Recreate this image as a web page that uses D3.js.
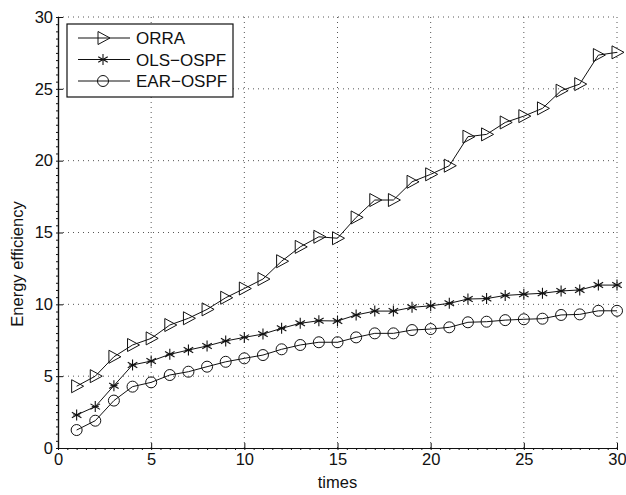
<!DOCTYPE html>
<html>
<head>
<meta charset="utf-8">
<script src="https://cdn.jsdelivr.net/npm/d3@7"></script>
<style>
  body { margin: 0; background: #fff; }
  text { font-family: "Liberation Sans", Arial, sans-serif; fill: #111; }
</style>
</head>
<body>
<div class="chart"></div>
<script>
// data
var times = d3.range(1, 31);
var orra = [4.3, 5.0, 6.35, 7.17, 7.63, 8.56, 9.03, 9.65, 10.46, 11.1,
            11.76, 13.0, 14.0, 14.7, 14.6, 16.05, 17.26, 17.26, 18.53, 19.05,
            19.65, 21.67, 21.83, 22.66, 23.1, 23.64, 24.87, 25.33, 27.35, 27.54];
var olsOspf = [2.3, 2.88, 4.34, 5.78, 6.05, 6.52, 6.82, 7.1, 7.45, 7.7,
               7.93, 8.33, 8.68, 8.86, 8.84, 9.26, 9.53, 9.53, 9.79, 9.9,
               10.07, 10.37, 10.4, 10.62, 10.7, 10.77, 10.93, 11.0, 11.34, 11.34];
var earOspf = [1.25, 1.9, 3.3, 4.27, 4.57, 5.08, 5.31, 5.66, 6.0, 6.24,
               6.47, 6.87, 7.17, 7.36, 7.36, 7.7, 7.98, 7.98, 8.21, 8.28,
               8.4, 8.75, 8.79, 8.9, 8.96, 9.0, 9.26, 9.3, 9.55, 9.55];
var seriesNames = ["ORRA", "OLS\u2212OSPF", "EAR\u2212OSPF"];
var seriesMarkers = ["triangle", "star", "circle"];
var xTicks = [0, 5, 10, 15, 20, 25, 30];
var yTicks = [0, 5, 10, 15, 20, 25, 30];

var svgWidth = 626, svgHeight = 495;
var margin = { top: 17, right: 9, bottom: 47, left: 58 };
var chartWidth = svgWidth - margin.left - margin.right;
var chartHeight = svgHeight - margin.top - margin.bottom;
var fontSize = "17px";

var svg = d3.select(".chart").append("svg")
  .attr("width", svgWidth)
  .attr("height", svgHeight);

var chartGroup = svg.append("g")
  .attr("transform", `translate(${margin.left}, ${margin.top})`);

var x = d3.scaleLinear().domain([0, 30]).range([0, chartWidth]);
var y = d3.scaleLinear().domain([0, 30]).range([chartHeight, 0]);

// dotted grid (also forms the top and right edge)
chartGroup.selectAll(".gx").data(xTicks.slice(1)).enter().append("line")
  .attr("x1", d => x(d)).attr("x2", d => x(d))
  .attr("y1", 0).attr("y2", chartHeight)
  .attr("stroke", "#555").attr("stroke-width", 1)
  .attr("stroke-dasharray", "1,4");
chartGroup.selectAll(".gy").data(yTicks.slice(1)).enter().append("line")
  .attr("y1", d => y(d)).attr("y2", d => y(d))
  .attr("x1", 0).attr("x2", chartWidth)
  .attr("stroke", "#555").attr("stroke-width", 1)
  .attr("stroke-dasharray", "1,4");

// axes
var xAxis = d3.axisBottom(x).tickValues(xTicks).tickSize(-5).tickPadding(5).tickSizeOuter(0);
var yAxis = d3.axisLeft(y).tickValues(yTicks).tickSize(-5).tickPadding(5).tickSizeOuter(0);

var gx = chartGroup.append("g")
  .attr("transform", `translate(0, ${chartHeight})`)
  .call(xAxis);
var gy = chartGroup.append("g").call(yAxis);

// minor ticks
var gxMinor = chartGroup.append("g")
  .attr("transform", `translate(0, ${chartHeight})`)
  .call(d3.axisBottom(x).tickValues(d3.range(0, 30.01, 0.5)).tickSize(2).tickFormat("").tickSizeOuter(0));
var gyMinor = chartGroup.append("g")
  .call(d3.axisLeft(y).tickValues(d3.range(0, 30.01, 0.5)).tickSize(2).tickFormat("").tickSizeOuter(0));

[gx, gy, gxMinor, gyMinor].forEach(function(g) {
  g.select(".domain").attr("stroke", "#111").attr("stroke-width", 1.2);
  g.selectAll("line").attr("stroke", "#111");
  g.selectAll("text")
    .style("font-family", "'Liberation Sans', Arial, sans-serif")
    .style("font-size", "16.5px")
    .attr("fill", "#111");
});

// markers
function drawMarker(g, type, cx, cy) {
  if (type === "triangle") {
    g.append("path")
      .attr("d", `M${cx - 5},${cy - 6.5}L${cx + 7},${cy}L${cx - 5},${cy + 6.5}Z`)
      .attr("fill", "none").attr("stroke", "#111").attr("stroke-width", 1);
  } else if (type === "circle") {
    g.append("circle")
      .attr("cx", cx).attr("cy", cy).attr("r", 5.5)
      .attr("fill", "none").attr("stroke", "#111").attr("stroke-width", 1);
  } else {
    var r = 5.5;
    [0, 60, 120].forEach(function(a) {
      var rad = a * Math.PI / 180;
      g.append("line")
        .attr("x1", cx - r * Math.sin(rad)).attr("y1", cy - r * Math.cos(rad))
        .attr("x2", cx + r * Math.sin(rad)).attr("y2", cy + r * Math.cos(rad))
        .attr("stroke", "#111").attr("stroke-width", 1.1);
    });
    g.append("line")
      .attr("x1", cx - 3.5).attr("x2", cx + 3.5).attr("y1", cy).attr("y2", cy)
      .attr("stroke", "#111").attr("stroke-width", 1.1);
  }
}

var allSeries = [orra, olsOspf, earOspf];
var line = d3.line()
  .x((d, i) => x(times[i]))
  .y(d => y(d));

allSeries.forEach(function(vals, k) {
  var g = chartGroup.append("g");
  g.append("path")
    .datum(vals)
    .attr("d", line)
    .attr("fill", "none")
    .attr("stroke", "#111")
    .attr("stroke-width", 1);
  vals.forEach(function(v, i) {
    drawMarker(g, seriesMarkers[k], x(times[i]), y(v));
  });
});

// legend
var legend = svg.append("g").attr("transform", "translate(67, 24)");
legend.append("rect")
  .attr("width", 166).attr("height", 73)
  .attr("fill", "#fff").attr("stroke", "#111").attr("stroke-width", 1.2);
seriesNames.forEach(function(name, k) {
  var ly = 14 + k * 21.5;
  legend.append("line")
    .attr("x1", 11).attr("x2", 63).attr("y1", ly).attr("y2", ly)
    .attr("stroke", "#111").attr("stroke-width", 1);
  drawMarker(legend, seriesMarkers[k], 36, ly);
  legend.append("text")
    .attr("x", 69).attr("y", ly + 6)
    .style("font-size", fontSize)
    .text(name);
});

// axis labels
svg.append("text")
  .attr("transform", "translate(23, 264) rotate(-90)")
  .attr("text-anchor", "middle")
  .style("font-size", "16.5px")
  .text("Energy efficiency");

svg.append("text")
  .attr("x", margin.left + chartWidth / 2)
  .attr("y", 488)
  .attr("text-anchor", "middle")
  .style("font-size", "16.5px")
  .text("times");
</script>
</body>
</html>
